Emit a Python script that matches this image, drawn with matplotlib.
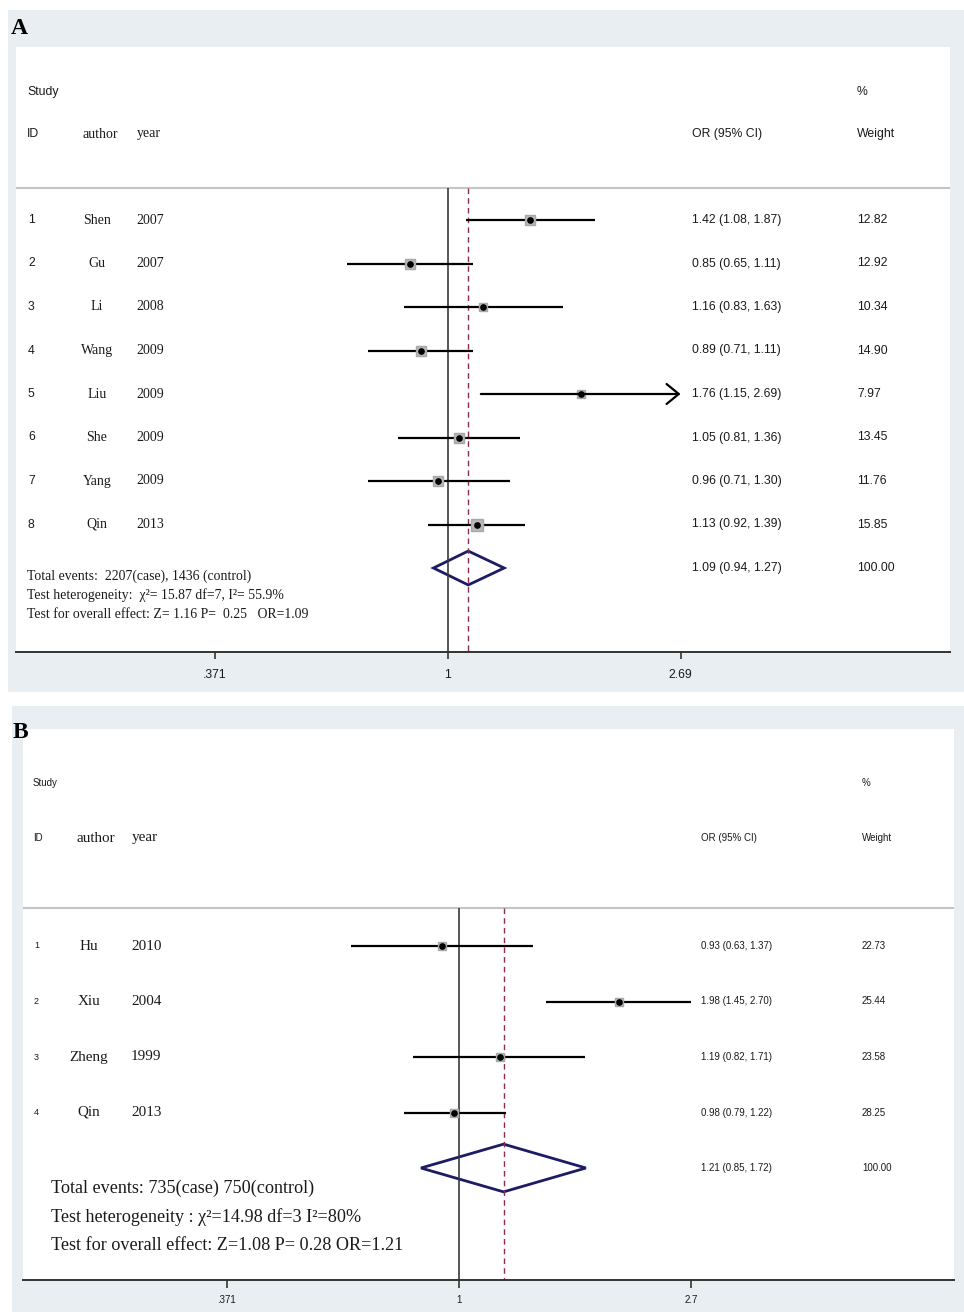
import numpy as np
import matplotlib.pyplot as plt
from matplotlib.patches import Polygon
from matplotlib.transforms import blended_transform_factory

W, H = 964, 1312
GREY = '#e8eef1'
SANS = ['Liberation Sans', 'DejaVu Sans']
SERIF = ['Liberation Serif', 'DejaVu Serif']

# ---- panel A data
a_ids = [1, 2, 3, 4, 5, 6, 7, 8]
a_authors = ["Shen", "Gu", "Li", "Wang", "Liu", "She", "Yang", "Qin"]
a_years = [2007, 2007, 2008, 2009, 2009, 2009, 2009, 2013]
a_or = [1.42, 0.85, 1.16, 0.89, 1.76, 1.05, 0.96, 1.13]
a_lo = [1.08, 0.65, 0.83, 0.71, 1.15, 0.81, 0.71, 0.92]
a_hi = [1.87, 1.11, 1.63, 1.11, 2.69, 1.36, 1.30, 1.39]
a_weight = [12.82, 12.92, 10.34, 14.90, 7.97, 13.45, 11.76, 15.85]
a_arrow = [False, False, False, False, True, False, False, False]
a_pooled = (1.09, 0.94, 1.27)
a_ticks = [0.371, 1, 2.69]
a_ticklabels = [".371", "1", "2.69"]
a_notes = ["Total events:  2207(case), 1436 (control)",
           "Test heterogeneity:  χ²= 15.87 df=7, I²= 55.9%",
           "Test for overall effect: Z= 1.16 P=  0.25   OR=1.09"]

# ---- panel B data
b_ids = [1, 2, 3, 4]
b_authors = ["Hu", "Xiu", "Zheng", "Qin"]
b_years = [2010, 2004, 1999, 2013]
b_or = [0.93, 1.98, 1.19, 0.98]
b_lo = [0.63, 1.45, 0.82, 0.79]
b_hi = [1.37, 2.70, 1.71, 1.22]
b_weight = [22.73, 25.44, 23.58, 28.25]
b_arrow = [False, False, False, False]
b_pooled = (1.21, 0.85, 1.72)
b_ticks = [0.371, 1, 2.7]
b_ticklabels = [".371", "1", "2.7"]
b_notes = ["Total events: 735(case) 750(control)",
           "Test heterogeneity : χ²=14.98 df=3 I²=80%",
           "Test for overall effect: Z=1.08 P= 0.28 OR=1.21"]

fig = plt.figure(figsize=(W / 100, H / 100), dpi=100, facecolor='white')


def px_box(x0, y0, x1, y1):
    return [x0 / W, 1 - y1 / H, (x1 - x0) / W, (y1 - y0) / H]


def panel(letter, lay, ids, authors, years, ors, los, his, weights, arrows,
          pooled, ticks, ticklabels, notes):
    bg = fig.add_axes(px_box(*lay['frame']))
    bg.set_facecolor(GREY)
    bg.set_xticks([])
    bg.set_yticks([])
    for s in bg.spines.values():
        s.set_visible(False)

    x0, y0, x1, y1 = lay['white']
    ax = fig.add_axes(px_box(x0, y0, x1, y1))
    ax.set_facecolor('white')
    ax.set_xscale('log')
    c, k = lay['center'], lay['scale']
    ax.set_xlim(np.exp((x0 - c) / k), np.exp((x1 - c) / k))
    r0, st = lay['row0'], lay['step']
    ry = lambda p: (p - r0) / st
    ax.set_ylim(ry(y1), ry(y0))
    fx = lambda p: (p - x0) / (x1 - x0)
    tr = blended_transform_factory(ax.transAxes, ax.transData)

    ax.set_yticks([])
    for s in ['top', 'left', 'right']:
        ax.spines[s].set_visible(False)
    ax.spines['bottom'].set_color('#333333')
    ax.spines['bottom'].set_linewidth(1.4)
    ax.set_xticks(ticks)
    ax.set_xticklabels(ticklabels, fontfamily=SANS, fontsize=lay['fs_sans'])
    ax.minorticks_off()
    ax.tick_params(axis='x', length=lay['ticklen'], width=1.2, color='#333333',
                   pad=lay['tickpad'], labelcolor='#1a1a1a')

    # header
    fs, fa = lay['fs_sans'], lay['fs_serif']
    tc = '#1a1a1a'
    ax.text(fx(lay['id_x'] - 1), ry(lay['head1']), "Study", transform=tr,
            family=SANS, fontsize=fs, va='center', color=tc)
    ax.text(fx(lay['id_x'] - 1), ry(lay['head2']), "ID", transform=tr,
            family=SANS, fontsize=fs, va='center', color=tc)
    ax.text(fx(lay['auth_head']), ry(lay['head2']), "author", transform=tr,
            family=SERIF, fontsize=fa, va='center', ha='center', color=tc)
    ax.text(fx(lay['year_x'] + 1), ry(lay['head2']), "year", transform=tr,
            family=SERIF, fontsize=fa, va='center', color=tc)
    ax.text(fx(lay['or_x']), ry(lay['head2']), "OR (95% CI)", transform=tr,
            family=SANS, fontsize=fs, va='center', color=tc)
    ax.text(fx(lay['w_x']), ry(lay['head1']), "%", transform=tr,
            family=SANS, fontsize=fs, va='center', color=tc)
    ax.text(fx(lay['w_x']), ry(lay['head2']), "Weight", transform=tr,
            family=SANS, fontsize=fs, va='center', color=tc)
    hl = ry(lay['hline'])
    ax.axhline(hl, color='#c4c4c4', lw=1.5)

    # reference lines
    ax.vlines(1, hl, ry(y1), color='#3a3a3a', lw=1.2)
    ax.vlines(pooled[0], hl, ry(y1), color='#8b2c4c', lw=1.0,
              linestyles=(0, (4, 3)))

    # studies
    for i in range(len(ids)):
        if arrows[i]:
            ax.annotate('', xy=(his[i], i), xytext=(los[i], i),
                        arrowprops=dict(arrowstyle='->,head_length=0.55,head_width=0.45',
                                        lw=1.6, color='black', shrinkA=0, shrinkB=0,
                                        mutation_scale=16))
        else:
            ax.plot([los[i], his[i]], [i, i], color='black', lw=1.6,
                    solid_capstyle='butt')
        ax.plot(ors[i], i, marker='s', ms=lay['box'] * np.sqrt(weights[i]),
                color='#b8b8b8', mec='#a8a8a8', ls='none')
        ax.plot(ors[i], i, marker='o', ms=3.8, color='black', ls='none')
        ax.text(fx(lay['id_x']), i, str(ids[i]), transform=tr, family=SANS,
                fontsize=lay['fs_id'], va='center', color=tc)
        ax.text(fx(lay['auth_x']), i, authors[i], transform=tr, family=SERIF,
                fontsize=fa, va='center', ha='center', color=tc)
        ax.text(fx(lay['year_x']), i, str(years[i]), transform=tr, family=SERIF,
                fontsize=fa, va='center', color=tc)
        ax.text(fx(lay['or_x']), i, f"{ors[i]:.2f} ({los[i]:.2f}, {his[i]:.2f})",
                transform=tr, family=SANS, fontsize=fs, va='center', color=tc)
        ax.text(fx(lay['w_x']), i, f"{weights[i]:.2f}", transform=tr, family=SANS,
                fontsize=fs, va='center', color=tc)

    # pooled diamond
    n = len(ids)
    p, lo, hi = pooled
    h = lay['dia_h']
    ax.add_patch(Polygon([(lo, n), (p, n - h), (hi, n), (p, n + h)], closed=True,
                         fill=False, edgecolor='#1c1c66', lw=2.0, joinstyle='miter'))
    ax.text(fx(lay['or_x']), n, f"{p:.2f} ({lo:.2f}, {hi:.2f})", transform=tr,
            family=SANS, fontsize=fs, va='center', color=tc)
    ax.text(fx(lay['w_x']), n, "100.00", transform=tr, family=SANS,
            fontsize=fs, va='center', color=tc)

    for j, t in enumerate(notes):
        ax.text(fx(lay['note_x']), ry(lay['note_y'][j]), t, transform=tr,
                family=SERIF, fontsize=lay['fs_note'], va='center', color=tc)

    fig.text(lay['letter'][0] / W, 1 - lay['letter'][1] / H, letter,
             family=SERIF, fontsize=17, fontweight='bold', va='center',
             color='black')


lay_a = dict(frame=(8, 10, 964, 692), white=(16, 47, 950, 652), center=448,
             scale=235, row0=220, step=43.5, head1=92, head2=134, hline=188,
             id_x=28, auth_x=97, auth_head=100, year_x=136, or_x=692, w_x=857,
             note_x=27, note_y=[576, 595, 614], fs_sans=8.8, fs_id=8.8,
             fs_serif=10, fs_note=9.9, box=2.0, dia_h=0.39, ticklen=5,
             tickpad=7, letter=(11, 28))
lay_b = dict(frame=(12, 706, 964, 1312), white=(23, 729, 954, 1280), center=459,
             scale=234, row0=946, step=55.5, head1=783, head2=838, hline=908,
             id_x=34, auth_x=89, auth_head=96, year_x=131, or_x=701, w_x=862,
             note_x=51, note_y=[1188, 1217, 1246], fs_sans=7, fs_id=6.5,
             fs_serif=10.9, fs_note=13.1, box=1.1, dia_h=0.43, ticklen=6,
             tickpad=5, letter=(13, 732))

panel("A", lay_a, a_ids, a_authors, a_years, a_or, a_lo, a_hi, a_weight, a_arrow,
      a_pooled, a_ticks, a_ticklabels, a_notes)
panel("B", lay_b, b_ids, b_authors, b_years, b_or, b_lo, b_hi, b_weight, b_arrow,
      b_pooled, b_ticks, b_ticklabels, b_notes)

fig.savefig("out.png", dpi=100, facecolor='white')
